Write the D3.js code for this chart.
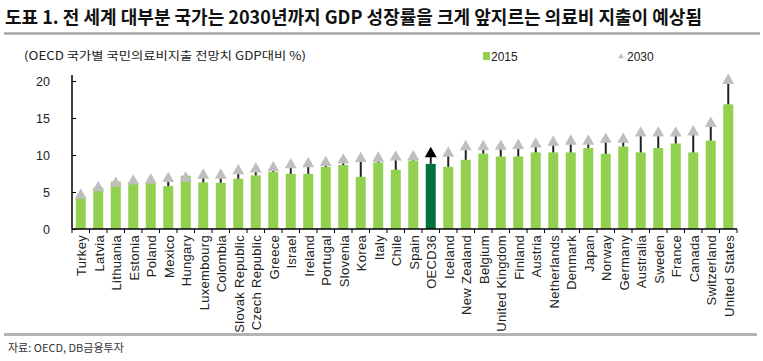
<!DOCTYPE html>
<html>
<head>
<meta charset="utf-8">
<script src="https://cdn.jsdelivr.net/npm/d3@7"></script>
<style>
  body { margin: 0; background: #fff; }
  svg { display: block; }
</style>
</head>
<body>
<div id="chart"></div>
<script>
const countries = ['Turkey', 'Latvia', 'Lithuania', 'Estonia', 'Poland', 'Mexico', 'Hungary',
  'Luxembourg', 'Colombia', 'Slovak Republic', 'Czech Republic', 'Greece', 'Israel', 'Ireland',
  'Portugal', 'Slovenia', 'Korea', 'Italy', 'Chile', 'Spain', 'OECD36', 'Iceland', 'New Zealand',
  'Belgium', 'United Kingdom', 'Finland', 'Austria', 'Netherlands', 'Denmark', 'Japan', 'Norway',
  'Germany', 'Australia', 'Sweden', 'France', 'Canada', 'Switzerland', 'United States'];

const v2015 = [4.15, 5.6, 6.4, 6.3, 6.3, 5.8, 7.2, 6.3, 6.25, 6.8, 7.25, 7.7, 7.45, 7.45,
  8.4, 8.65, 7.05, 9.0, 8.0, 9.25, 8.8, 8.4, 9.35, 10.2, 9.8, 9.8, 10.35, 10.35, 10.35, 10.95,
  10.15, 11.15, 10.35, 10.95, 11.55, 10.35, 11.95, 16.85];

const v2030 = [4.7, 5.7, 6.3, 6.6, 6.75, 6.95, 7.0, 7.4, 7.4, 8.0, 8.25, 8.4, 8.8, 8.95,
  9.1, 9.45, 9.65, 9.7, 9.85, 9.9, 10.3, 10.35, 11.25, 11.25, 11.3, 11.4, 11.6, 11.85, 12.0, 12.0,
  12.25, 12.25, 13.1, 13.1, 13.1, 13.25, 14.4, 20.2];

const yTicks = [0, 5, 10, 15, 20];
const seriesNames = ['2015', '2030'];
const highlight = 'OECD36';

const title = '도표 1. 전 세계 대부분 국가는 2030년까지 GDP 성장률을 크게 앞지르는 의료비 지출이 예상됨';
const subtitle = '(OECD 국가별 국민의료비지출 전망치 GDP대비 %)';
const source = '자료: OECD, DB금융투자';

const data = countries.map((c, i) => ({ name: c, a: v2015[i], b: v2030[i] }));

const W = 763, H = 361;
const green = '#92d050', darkGreen = '#00703c', grey = '#bfbfbf';
const kr = "'Noto Sans CJK KR', sans-serif";
const latin = "'Liberation Sans', Arial, sans-serif";

const svg = d3.select('#chart').append('svg')
  .attr('width', W)
  .attr('height', H);

// header
svg.append('text')
  .attr('x', 5).attr('y', 24)
  .attr('font-family', kr)
  .attr('font-size', 18.5)
  .attr('font-weight', 600)
  .attr('fill', '#111')
  .attr('textLength', 697)
  .attr('lengthAdjust', 'spacingAndGlyphs')
  .text(title);

svg.append('line')
  .attr('x1', 4).attr('x2', 760)
  .attr('y1', 33.5).attr('y2', 33.5)
  .attr('stroke', '#a6a6a6')
  .attr('stroke-width', 2.5);

svg.append('text')
  .attr('x', 24).attr('y', 60)
  .attr('font-family', kr)
  .attr('font-size', 11.5)
  .attr('fill', '#222')
  .attr('textLength', 282)
  .attr('lengthAdjust', 'spacingAndGlyphs')
  .text(subtitle);

// legend
const legend = svg.append('g').attr('font-family', latin).attr('font-size', 12).attr('fill', '#222');
legend.append('rect')
  .attr('x', 483).attr('y', 52).attr('width', 7).attr('height', 8)
  .attr('fill', green);
legend.append('text').attr('x', 491).attr('y', 60.5).text(seriesNames[0]);
legend.append('path')
  .attr('transform', 'translate(621,56.5)')
  .attr('d', d3.symbol(d3.symbolTriangle, 14)())
  .attr('fill', grey);
legend.append('text').attr('x', 627).attr('y', 60.5).text(seriesNames[1]);

// scales
const x = d3.scaleBand()
  .domain(countries)
  .range([72, 737])
  .paddingInner(0.43)
  .paddingOuter(0.215);

const y = d3.scaleLinear()
  .domain([0, 20])
  .range([229, 81]);

// y axis
const yAxis = d3.axisLeft(y)
  .tickValues(yTicks)
  .tickSizeInner(-4)
  .tickSizeOuter(0)
  .tickPadding(22);

const gy = svg.append('g')
  .attr('transform', 'translate(72,0)')
  .call(yAxis);
gy.select('.domain').remove();
gy.selectAll('.tick line').attr('stroke', '#000');
gy.selectAll('.tick text')
  .attr('font-family', latin)
  .attr('font-size', 12.5)
  .attr('fill', '#222');
gy.append('line')
  .attr('x1', 0).attr('x2', 0)
  .attr('y1', y(0)).attr('y2', 75)
  .attr('stroke', '#000')
  .attr('stroke-width', 1.5);

// bars
svg.append('g')
  .selectAll('rect')
  .data(data)
  .enter()
  .append('rect')
    .attr('x', d => x(d.name))
    .attr('y', d => y(d.a))
    .attr('width', x.bandwidth())
    .attr('height', d => y(0) - y(d.a))
    .attr('fill', d => d.name === highlight ? darkGreen : green);

// connectors from 2015 to 2030
svg.append('g')
  .selectAll('line')
  .data(data)
  .enter()
  .append('line')
    .attr('x1', d => x(d.name) + x.bandwidth() / 2)
    .attr('x2', d => x(d.name) + x.bandwidth() / 2)
    .attr('y1', d => y(d.a))
    .attr('y2', d => y(d.b))
    .attr('stroke', '#222')
    .attr('stroke-width', 2);

// 2030 markers
svg.append('g')
  .selectAll('path')
  .data(data)
  .enter()
  .append('path')
    .attr('transform', d => `translate(${x(d.name) + x.bandwidth() / 2}, ${y(d.b) + 1})`)
    .attr('d', d3.symbol(d3.symbolTriangle, 62)())
    .attr('fill', d => d.name === highlight ? '#000' : grey);

// x axis line and ticks between categories
const gx = svg.append('g');
gx.append('line')
  .attr('x1', 72).attr('x2', 737)
  .attr('y1', y(0)).attr('y2', y(0))
  .attr('stroke', '#000')
  .attr('stroke-width', 1.5);
gx.selectAll('.xt')
  .data(d3.range(countries.length + 1))
  .enter()
  .append('line')
    .attr('class', 'xt')
    .attr('x1', i => x.range()[0] + i * x.step())
    .attr('x2', i => x.range()[0] + i * x.step())
    .attr('y1', y(0)).attr('y2', y(0) + 4)
    .attr('stroke', '#000');

gx.selectAll('text')
  .data(countries)
  .enter()
  .append('text')
    .attr('transform', d => `translate(${x(d) + x.bandwidth() / 2 + 1}, 235) rotate(-90)`)
    .attr('text-anchor', 'end')
    .attr('dy', '0.35em')
    .attr('font-family', latin)
    .attr('font-size', 13)
    .attr('letter-spacing', 0.3)
    .attr('fill', '#222')
    .text(d => d);

// footer
svg.append('line')
  .attr('x1', 4).attr('x2', 757)
  .attr('y1', 334.5).attr('y2', 334.5)
  .attr('stroke', '#b3b3b3')
  .attr('stroke-width', 3);

svg.append('text')
  .attr('x', 8).attr('y', 352)
  .attr('font-family', kr)
  .attr('font-size', 11)
  .attr('fill', '#333')
  .text(source);
</script>
</body>
</html>
